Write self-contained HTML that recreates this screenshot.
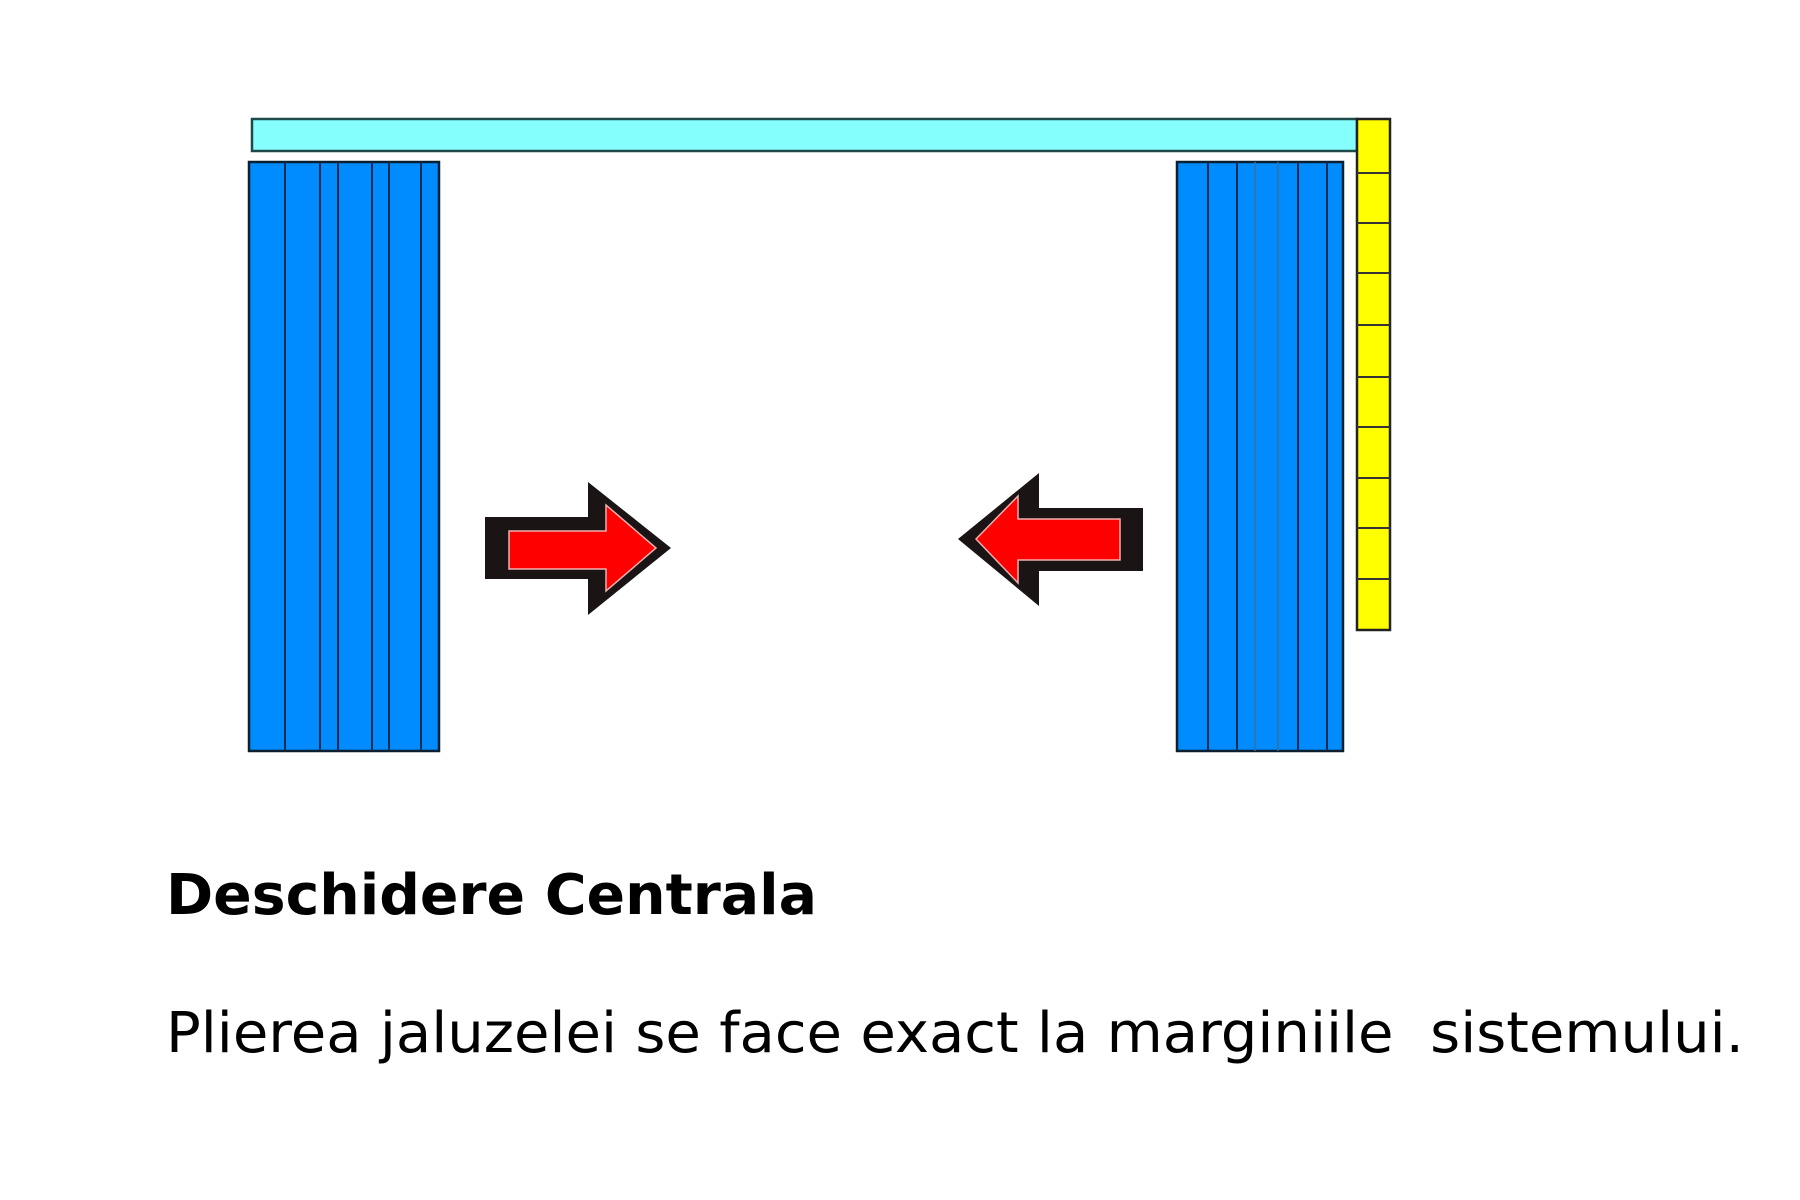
<!DOCTYPE html>
<html><head><meta charset="utf-8"><style>html,body{margin:0;padding:0;background:#fff}svg{display:block}</style></head>
<body>
<svg width="1800" height="1200" viewBox="0 0 1800 1200" xmlns="http://www.w3.org/2000/svg">
<rect width="1800" height="1200" fill="#fff"/>
<!-- top rail -->
<rect x="252" y="119" width="1105" height="32" fill="#86ffff" stroke="#1e4a4a" stroke-width="2.5"/>
<!-- yellow stack -->
<rect x="1357" y="119" width="33" height="511" fill="#ffff00" stroke="#222" stroke-width="2.5"/>
<g stroke="#333" stroke-width="2">
<line x1="1357" y1="173" x2="1390" y2="173"/><line x1="1357" y1="223" x2="1390" y2="223"/>
<line x1="1357" y1="273" x2="1390" y2="273"/><line x1="1357" y1="325" x2="1390" y2="325"/>
<line x1="1357" y1="377" x2="1390" y2="377"/><line x1="1357" y1="427" x2="1390" y2="427"/>
<line x1="1357" y1="478" x2="1390" y2="478"/><line x1="1357" y1="528" x2="1390" y2="528"/>
<line x1="1357" y1="579" x2="1390" y2="579"/>
</g>
<!-- left curtain -->
<rect x="249" y="162" width="190" height="589" fill="#008cff" stroke="#0a2030" stroke-width="2.5"/>
<g stroke="#0a2a50" stroke-width="2">
<line x1="285" y1="162" x2="285" y2="751"/><line x1="320" y1="162" x2="320" y2="751"/>
<line x1="338" y1="162" x2="338" y2="751"/><line x1="372" y1="162" x2="372" y2="751"/>
<line x1="389" y1="162" x2="389" y2="751"/><line x1="421" y1="162" x2="421" y2="751"/>
</g>
<!-- right curtain -->
<rect x="1177" y="162" width="166" height="589" fill="#008cff" stroke="#0a2030" stroke-width="2.5"/>
<g stroke="#0a2a50" stroke-width="2">
<line x1="1208" y1="162" x2="1208" y2="751"/><line x1="1237" y1="162" x2="1237" y2="751"/>
<line x1="1298" y1="162" x2="1298" y2="751"/><line x1="1327" y1="162" x2="1327" y2="751"/>
</g>
<g stroke="#3a6f9a" stroke-width="1.5">
<line x1="1255" y1="162" x2="1255" y2="751"/><line x1="1278" y1="162" x2="1278" y2="751"/>
</g>
<!-- right arrow -->
<polygon points="485,517 588,517 588,482 671,548 588,615 588,579 485,579" fill="#1a1414"/>
<polygon points="509,531 606,531 606,505 656,548 606,591 606,569 509,569" fill="#ff0000" stroke="#f0b0b0" stroke-width="1.5"/>
<!-- left arrow -->
<polygon points="1143,508 1039,508 1039,473 958,539 1039,606 1039,571 1143,571" fill="#1a1414"/>
<polygon points="1120,519 1018,519 1018,496 976,539 1018,583 1018,560 1120,560" fill="#ff0000" stroke="#f0b0b0" stroke-width="1.5"/>
<!-- text -->
<text x="166" y="914" font-family="DejaVu Sans, Verdana, sans-serif" font-weight="bold" font-size="56" textLength="651" lengthAdjust="spacingAndGlyphs" fill="#000">Deschidere Centrala</text>
<text x="166" y="1052" font-family="DejaVu Sans, Verdana, sans-serif" font-size="56" textLength="1578" lengthAdjust="spacingAndGlyphs" fill="#000" xml:space="preserve">Plierea jaluzelei se face exact la marginiile  sistemului.</text>
</svg>
</body></html>
